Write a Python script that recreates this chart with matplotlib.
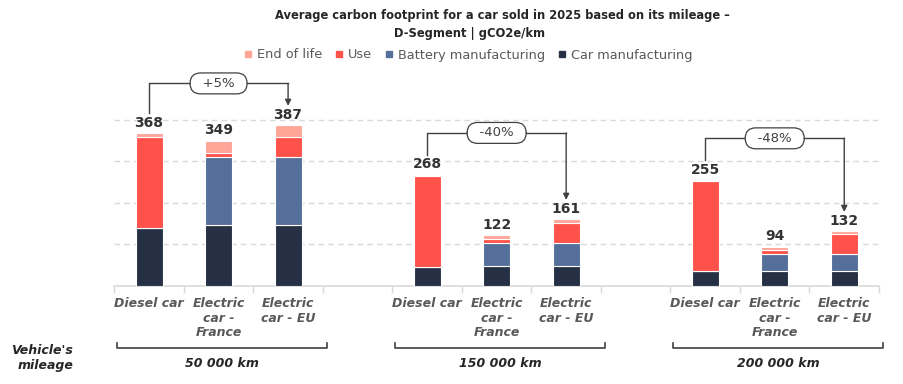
import numpy as np
import matplotlib.pyplot as plt
from matplotlib.lines import Line2D

# data (gCO2e/km)
groups = ['50 000 km', '150 000 km', '200 000 km']
cars = ['Diesel car', 'Electric\ncar -\nFrance', 'Electric\ncar - EU']
car_manuf = [139, 146, 146, 46, 49, 49, 35, 37, 37]
battery = [0, 165, 165, 0, 55, 55, 0, 41, 41]
use = [218, 9, 48, 218, 9, 48, 218, 9, 48]
end_of_life = [11, 29, 28, 4, 9, 9, 2, 7, 6]
totals = [368, 349, 387, 268, 122, 161, 255, 94, 132]
changes = ['+5%', '-40%', '-48%']

NAVY = '#263045'
BLUE = '#546F99'
RED = '#FF524A'
PINK = '#FFA698'
GRAY = '#595959'
DARK = '#404040'

fig = plt.figure(figsize=(9.04, 3.84), dpi=100)
ax = fig.add_axes([114.3/904, 98/384, (879-114.3)/904, 208/384])

# bar slots: 3 per group, one empty slot between groups
x = np.array([g*4 + i for g in range(3) for i in range(3)])
w = 0.39
bottom = np.zeros(9)
for vals, col in [(car_manuf, NAVY), (battery, BLUE), (use, RED), (end_of_life, PINK)]:
    v = np.array(vals, dtype=float)
    ax.bar(x, v, w, bottom=bottom, color=col, edgecolor='white', linewidth=0.8, zorder=3)
    bottom += v

for xi, t in zip(x, totals):
    ax.text(xi, t + 25, str(t), ha='center', va='center', fontsize=10,
            fontweight='bold', color='#333333', zorder=4)

# change brackets
for g in range(3):
    d, e = x[g*3], x[g*3 + 2]
    top = max(totals[g*3:g*3+3]) + 100
    start = totals[g*3] + 48
    tip = totals[g*3 + 2] + 46
    ax.plot([d, d, e], [start, top, top], color=DARK, lw=1, clip_on=False, zorder=4)
    ax.annotate('', xy=(e, tip), xytext=(e, top),
                arrowprops=dict(arrowstyle='-|>', color=DARK, lw=1,
                                shrinkA=0, shrinkB=0, mutation_scale=9),
                annotation_clip=False, zorder=4)
    ax.text(x[g*3 + 1], top, '  ' + changes[g] + '  ', ha='center', va='center',
            fontsize=9.5, color=DARK, zorder=5,
            bbox=dict(boxstyle='round,pad=0.3,rounding_size=0.8', fc='white',
                      ec=DARK, lw=0.9))

ax.set_xlim(-0.5, 10.5)
ax.set_ylim(0, 500)
ax.set_yticks([100, 200, 300, 400])
ax.yaxis.grid(True, ls=(0, (4, 3)), color='#D9D9D9', lw=1, zorder=0)
ax.tick_params(axis='y', length=0, labelleft=False)
for s in ['left', 'right', 'top']:
    ax.spines[s].set_visible(False)
ax.spines['bottom'].set_color('#D9D9D9')
ax.spines['bottom'].set_linewidth(1.2)

ax.set_xticks(x)
ax.set_xticklabels(cars * 3, fontsize=9, fontweight='bold', style='italic',
                   color=GRAY, linespacing=1.15, va='top')
ax.tick_params(axis='x', which='major', length=0, pad=8)
ax.set_xticks(np.arange(-0.5, 11, 1), minor=True)
ax.tick_params(axis='x', which='minor', length=5, color='#D9D9D9', width=1)

# group brackets under the labels
tr = ax.get_xaxis_transform()
for g in range(3):
    x0, x1 = g*4 - 0.46, g*4 + 2.56
    ax.plot([x0, x0, x1, x1], [-0.274, -0.2995, -0.2995, -0.274], color=DARK,
            lw=1.2, transform=tr, clip_on=False)
    ax.text(g*4 + 1.05, -0.372, groups[g], transform=tr, ha='center', va='center',
            fontsize=9, fontweight='bold', style='italic', color='#262626')

fig.text(73/904, 1 - 358/384, "Vehicle's\nmileage", ha='right', va='center',
         fontsize=9, fontweight='bold', style='italic', color='#262626', linespacing=1.2)

fig.text(502/904, 1 - 16/384, 'Average carbon footprint for a car sold in 2025 based on its mileage \u2013',
         ha='center', va='center', fontsize=8.3, fontweight='bold', color='#262626')
fig.text(470/904, 1 - 33/384, 'D-Segment | gCO2e/km', ha='center', va='center',
         fontsize=8.3, fontweight='bold', color='#262626')

handles = [Line2D([], [], marker='s', ls='', color=c, markersize=5)
           for c in [PINK, RED, BLUE, NAVY]]
fig.legend(handles, ['End of life', 'Use', 'Battery manufacturing', 'Car manufacturing'],
           loc='center', bbox_to_anchor=(468/904, 1 - 55/384), ncol=4, frameon=False,
           fontsize=9.3, labelcolor=GRAY, handlelength=0.6, handletextpad=0.4,
           columnspacing=1.0)

fig.savefig('out.png', dpi=100)
